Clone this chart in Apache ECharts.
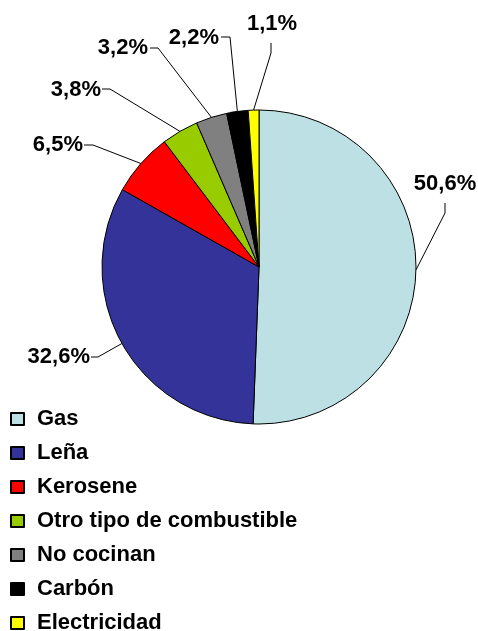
<!DOCTYPE html>
<html>
<head>
<meta charset="utf-8">
<script src="https://cdn.jsdelivr.net/npm/echarts@6/dist/echarts.min.js"></script>
<style>
  html, body { margin: 0; padding: 0; background: #fff; }
</style>
</head>
<body>
<!-- contenedor del grafico -->
<div id="torta" style="width: 478px; height: 631px"></div>
<script>
// tipo de combustible para cocinar
var categorias = ["Gas", "Leña", "Kerosene", "Otro tipo de combustible", "No cocinan", "Carbón", "Electricidad"];
var porcentajes = [50.6, 32.6, 6.5, 3.8, 3.2, 2.2, 1.1];
var colores = ["#bce0e3", "#333399", "#ff0000", "#99cc00", "#808080", "#000000", "#ffff00"];

// donde va cada etiqueta: [x, y, alineacion, codo x, codo y, fin x, fin y]
var etiquetas = [
  [445, 184, "center", 445, 213, 445, 203],
  [90, 357, "right", 98, 357, 91, 357],
  [83, 145, "right", 93, 145, 84, 145],
  [101, 90, "right", 110, 89, 102, 89],
  [148, 48, "right", 158, 48, 150, 48],
  [219, 38, "right", 230, 37, 221, 37],
  [272, 24, "center", 271, 53, 271, 43]
];

var chart = echarts.init(document.getElementById("torta"));

var datos = [];
for (var i = 0; i < categorias.length; i++) {
  datos.push({
    name: categorias[i],
    value: porcentajes[i],
    itemStyle: { color: colores[i] }
  });
}

chart.setOption({
  animation: false,
  textStyle: { fontFamily: "Arial, 'Liberation Sans', sans-serif" },
  legend: {
    orient: "vertical",
    left: 10,
    top: 408,
    height: 240,
    itemWidth: 13,
    itemHeight: 12,
    itemGap: 12,
    icon: "rect",
    padding: 0,
    data: categorias,
    textStyle: {
      color: "#000",
      fontSize: 22,
      fontWeight: "bold",
      padding: [0, 0, 0, 8]
    }
  },
  series: [
    {
      type: "pie",
      center: [259, 267],
      radius: 157,
      startAngle: 90,
      clockwise: true,
      avoidLabelOverlap: false,
      itemStyle: { borderColor: "#000", borderWidth: 1 },
      emphasis: { disabled: true },
      label: {
        show: true,
        position: "outside",
        color: "#000",
        fontSize: 22,
        fontWeight: "bold",
        formatter: function (p) {
          return p.value.toFixed(1).replace(".", ",") + "%";
        }
      },
      labelLine: {
        show: true,
        lineStyle: { color: "#000", width: 1 }
      },
      labelLayout: function (params) {
        var e = etiquetas[params.dataIndex];
        var inicio = params.labelLinePoints ? params.labelLinePoints[0] : [e[3], e[4]];
        return {
          x: e[0],
          y: e[1],
          align: e[2],
          verticalAlign: "middle",
          labelLinePoints: [inicio, [e[3], e[4]], [e[5], e[6]]]
        };
      },
      data: datos
    }
  ]
});

window.addEventListener("resize", function () {
  chart.resize();
});
</script>
</body>
</html>
